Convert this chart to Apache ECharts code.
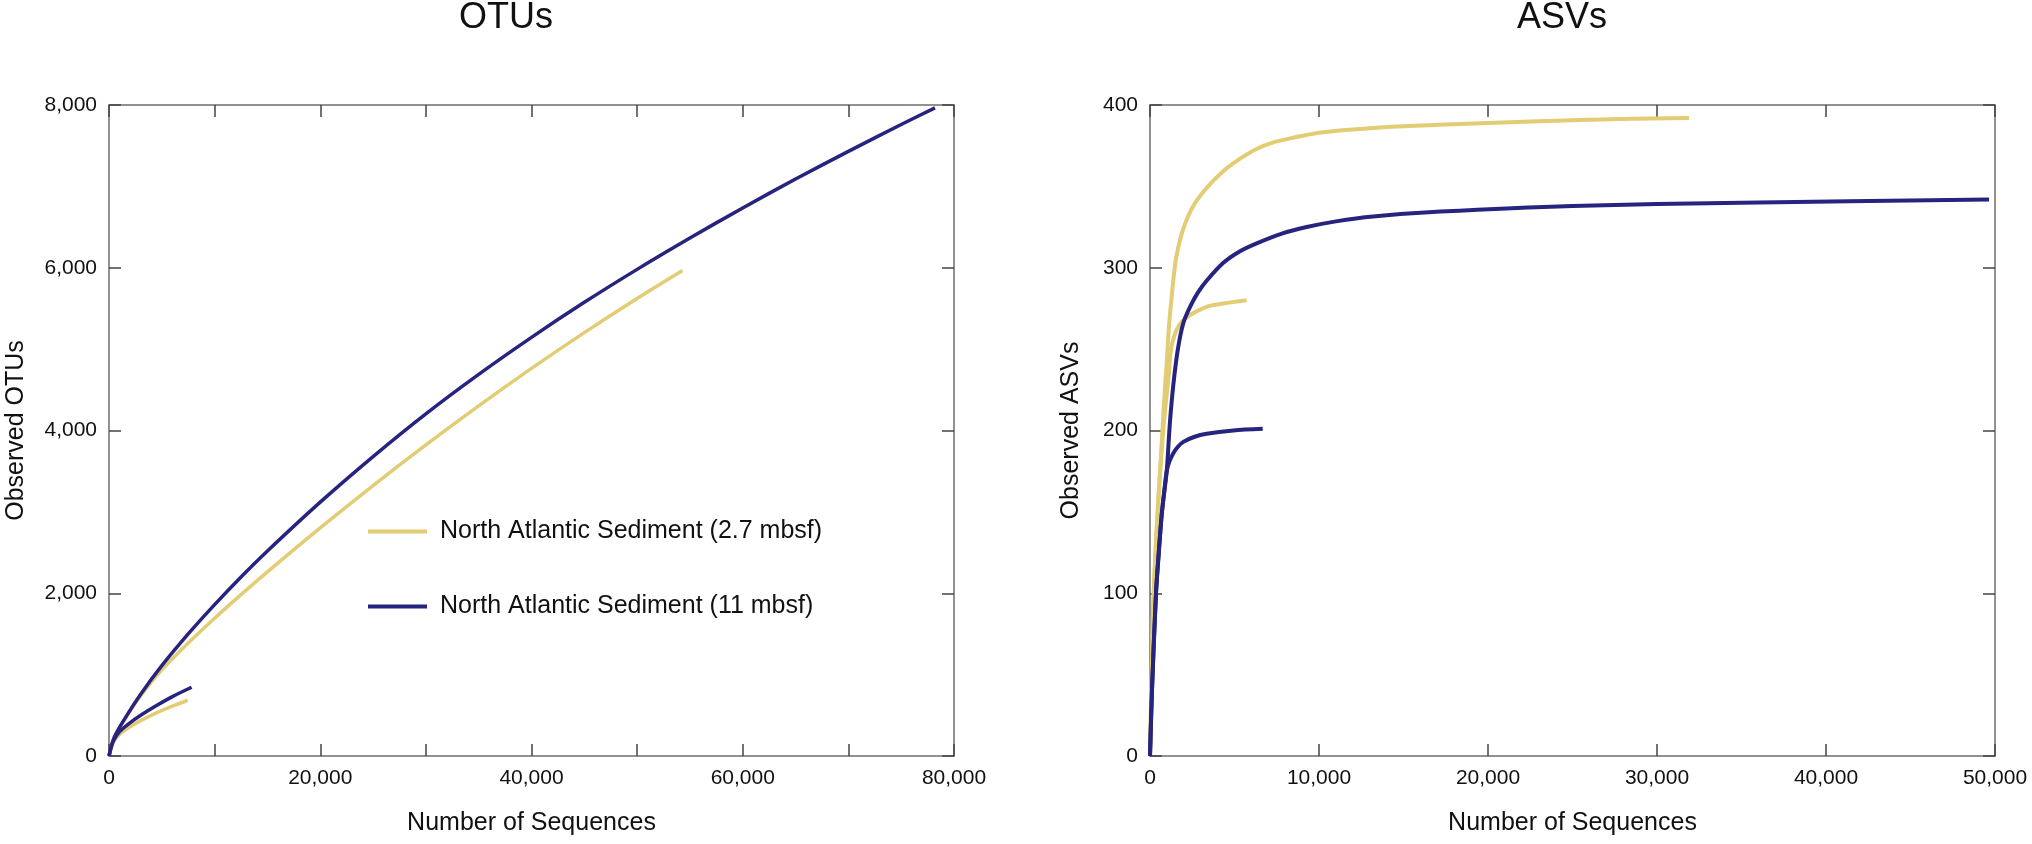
<!DOCTYPE html>
<html>
<head>
<meta charset="utf-8">
<script src="https://cdn.jsdelivr.net/npm/echarts@6/dist/echarts.min.js"></script>
<style>
  html, body { margin: 0; padding: 0; background: #fff; }
  #chart { width: 2032px; height: 844px; }
</style>
</head>
<body>
<div id="chart"></div>
<script>
// series names
var shallowName = 'North Atlantic Sediment (2.7 mbsf)';
var deepName = 'North Atlantic Sediment (11 mbsf)';

// OTUs panel: [sequences, observed OTUs]
var otuShallowLong = [[0,0],[500,220],[1500,450],[3000,742],[5000,1058],[7500,1388],[10000,1693],[12500,1983],[15000,2263],[20000,2803],[25000,3323],[30000,3823],[35000,4303],[40000,4763],[45000,5203],[50000,5623],[54300,5967]];
var otuShallowShort = [[0,0],[250,120],[500,190],[1000,265],[1800,345],[3000,435],[4500,530],[6000,612],[7450,685]];
var otuDeepLong = [[0,0],[500,230],[1500,460],[3000,760],[5000,1110],[7500,1500],[10000,1860],[12500,2200],[15000,2520],[20000,3120],[25000,3680],[30000,4205],[35000,4690],[40000,5145],[45000,5575],[50000,5980],[55000,6365],[60000,6735],[65000,7090],[70000,7430],[75000,7760],[78200,7965]];
var otuDeepShort = [[0,0],[250,130],[500,205],[1000,300],[1800,390],[3000,500],[4500,620],[6000,730],[7820,845]];

// ASVs panel: [sequences, observed ASVs]
var asvShallowLong = [[0,0],[100,50],[200,95],[400,140],[600,175],[800,212],[990,242],[1130,265],[1280,282],[1430,297],[1580,308],[1970,324],[2560,338],[3350,349],[4300,359],[5330,367],[6300,373],[7300,377],[8500,380],[10000,383],[12000,385],[15000,387],[20000,389],[26000,391],[31900,392]];
var asvShallowShort = [[0,0],[100,50],[200,95],[400,140],[600,175],[850,208],[1090,232],[1200,246],[1300,253],[1580,262],[1900,267],[2370,271],[3350,276],[4340,278],[5720,280]];
var asvDeepLong = [[0,0],[120,41],[355,100],[520,125],[690,148],[850,163],[990,175],[1180,205],[1380,228],[1650,250],[1970,266],[2370,276],[2850,285],[3350,292],[4340,303],[5300,310],[6310,315],[7800,321],[9270,325],[11000,328.5],[13200,331.5],[17200,334.5],[25000,338],[35000,340],[49650,342]];
var asvDeepShort = [[0,0],[120,41],[355,100],[520,125],[690,148],[850,163],[990,175],[1150,181],[1380,186],[1650,190],[1970,193],[2600,196],[3350,198],[4930,200],[6670,201]];

// axis ranges
var otuXMax = 80000, otuXStep = 10000, otuYMax = 8000, otuYStep = 2000;
var asvXMax = 50000, asvXStep = 10000, asvYMax = 400, asvYStep = 100;

var yellow = '#E2CC74';
var navy = '#27247F';
var font = '"Liberation Sans", Arial, Helvetica, sans-serif';

function fmt(v) {
    return v.toLocaleString('en-US');
}

function frameAxis(opts) {
    // one side of a boxed plot, ticks pointing inward
    return Object.assign({
        type: 'value',
        min: 0,
        axisLine: { show: true, onZero: false, lineStyle: { color: '#6e6e6e', width: 1.5 } },
        axisTick: { show: true, inside: true, length: 12, lineStyle: { color: '#444', width: 1.5 } },
        splitLine: { show: false },
        axisLabel: { show: false },
        nameTextStyle: { fontFamily: font, fontSize: 25, color: '#111' }
    }, opts);
}

function label(formatter) {
    return { show: true, fontFamily: font, fontSize: 21, color: '#111', margin: 12, formatter: formatter };
}

function line(name, data, color, xi, yi, width) {
    return {
        name: name,
        type: 'line',
        data: data,
        xAxisIndex: xi,
        yAxisIndex: yi,
        smooth: 0.3,
        showSymbol: false,
        symbol: 'none',
        lineStyle: { color: color, width: width },
        itemStyle: { color: color },
        emphasis: { disabled: true },
        animation: false
    };
}

var chart = echarts.init(document.getElementById('chart'));
chart.setOption({
    backgroundColor: '#fff',
    animation: false,
    title: [
        { text: 'OTUs', left: 506, top: 0, padding: 0, textAlign: 'center',
          textStyle: { fontFamily: font, fontSize: 36, fontWeight: 'normal', color: '#111' } },
        { text: 'ASVs', left: 1562, top: 0, padding: 0, textAlign: 'center',
          textStyle: { fontFamily: font, fontSize: 36, fontWeight: 'normal', color: '#111' } }
    ],
    legend: {
        orient: 'vertical',
        left: 363,
        top: 514,
        itemWidth: 59,
        itemHeight: 4,
        itemGap: 50,
        icon: 'rect',
        data: [shallowName, deepName],
        textStyle: { fontFamily: font, fontSize: 25, color: '#111', padding: [0, 0, 0, 8] }
    },
    grid: [
        { left: 109, right: 1078, top: 105, bottom: 88 },
        { left: 1150, right: 37, top: 105, bottom: 88 }
    ],
    xAxis: [
        frameAxis({ gridIndex: 0, position: 'bottom', max: otuXMax, interval: otuXStep,
            name: 'Number of Sequences', nameLocation: 'middle', nameGap: 55,
            axisLabel: label(function (v) { return v % 20000 === 0 ? fmt(v) : ''; }) }),
        frameAxis({ gridIndex: 0, position: 'top', max: otuXMax, interval: otuXStep }),
        frameAxis({ gridIndex: 1, position: 'bottom', max: asvXMax, interval: asvXStep,
            name: 'Number of Sequences', nameLocation: 'middle', nameGap: 55,
            axisLabel: label(fmt) }),
        frameAxis({ gridIndex: 1, position: 'top', max: asvXMax, interval: asvXStep })
    ],
    yAxis: [
        frameAxis({ gridIndex: 0, position: 'left', max: otuYMax, interval: otuYStep,
            name: 'Observed OTUs', nameLocation: 'middle', nameGap: 80,
            axisLabel: label(fmt) }),
        frameAxis({ gridIndex: 0, position: 'right', max: otuYMax, interval: otuYStep }),
        frameAxis({ gridIndex: 1, position: 'left', max: asvYMax, interval: asvYStep,
            name: 'Observed ASVs', nameLocation: 'middle', nameGap: 66,
            axisLabel: label(fmt) }),
        frameAxis({ gridIndex: 1, position: 'right', max: asvYMax, interval: asvYStep })
    ],
    series: [
        line(shallowName, otuShallowLong, yellow, 0, 0, 3.5),
        line(shallowName, otuShallowShort, yellow, 0, 0, 3.5),
        line(deepName, otuDeepLong, navy, 0, 0, 3.5),
        line(deepName, otuDeepShort, navy, 0, 0, 3.5),
        line(shallowName, asvShallowLong, yellow, 2, 2, 4),
        line(shallowName, asvShallowShort, yellow, 2, 2, 4),
        line(deepName, asvDeepLong, navy, 2, 2, 4),
        line(deepName, asvDeepShort, navy, 2, 2, 4)
    ]
});
</script>
</body>
</html>
